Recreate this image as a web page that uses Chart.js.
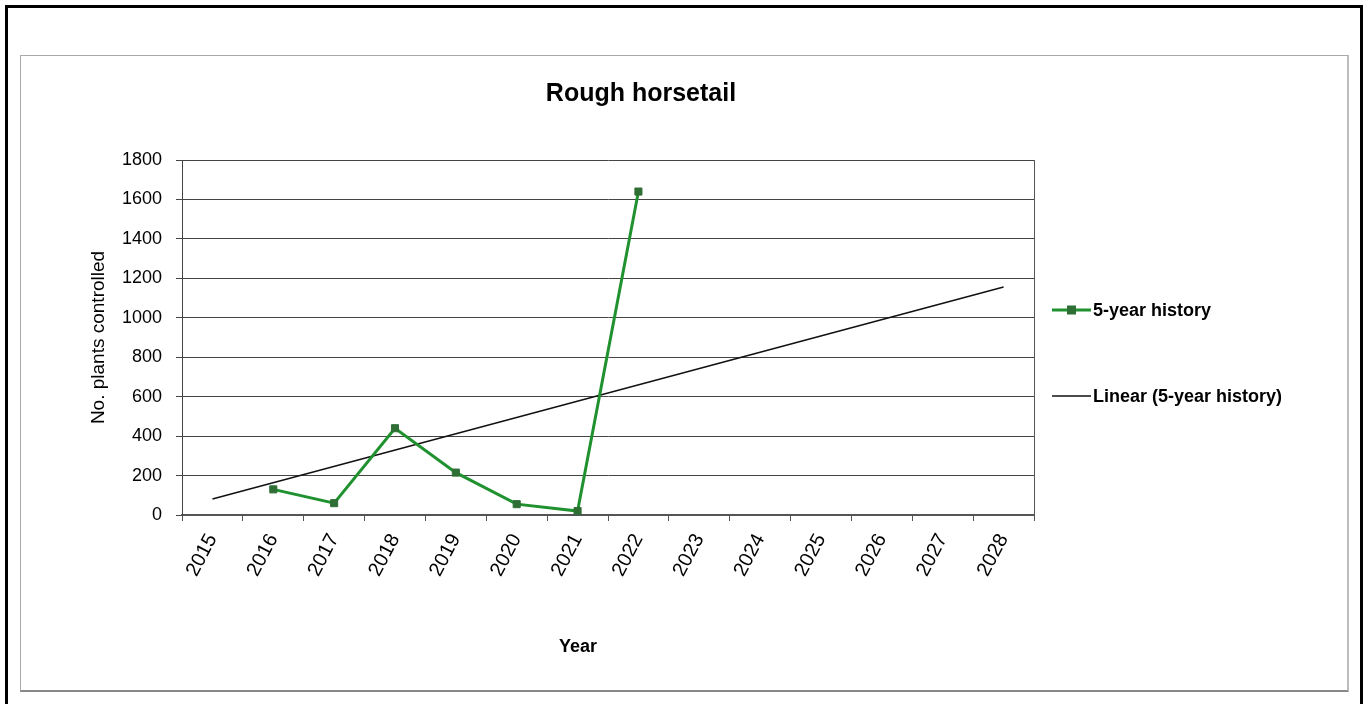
<!DOCTYPE html>
<html>
<head>
<meta charset="utf-8">
<script src="https://cdn.jsdelivr.net/npm/chart.js@4"></script>
<style>
body{margin:0;background:#fff;width:1372px;height:704px;overflow:hidden;position:relative}
#frame{position:absolute;left:5px;top:5px;width:1352px;height:720px;border:3px solid #000}
#box{position:absolute;left:20px;top:55px;width:1326px;height:634px;border:1px solid #aaa;border-bottom:2px solid #888;border-right:2px solid #bbb}
#chart{position:absolute;left:0;top:0}
</style>
</head>
<body>
<div id="frame"></div>
<div id="box"><canvas id="chart" width="1326" height="634"></canvas></div>
<script>

let years = ["2015","2016","2017","2018","2019","2020","2021","2022","2023","2024","2025","2026","2027","2028"]

let history = [null,130,60,440,215,55,20,1640,null,null,null,null,null,null]

// trend line only known at its two ends
let trend = [81,null,null,null,null,null,null,null,null,null,null,null,null,1156]

let yTicks = [0,200,400,600,800,1000,1200,1400,1600,1800]

let chartTitle = "Rough horsetail"
let xTitle = "Year"
let yTitle = "No. plants controlled"

let font = "'Liberation Sans', Arial, sans-serif"


let excelText = {

id:"excelText",

afterDraw(chart){

let ctx = chart.ctx

ctx.save()

ctx.fillStyle = "#000"
ctx.textAlign = "center"
ctx.textBaseline = "middle"

ctx.font = "bold 25px " + font
ctx.fillText(chartTitle, 620, 38)

ctx.font = "bold 18px " + font
ctx.fillText(xTitle, 557, 591)

// legend
ctx.textAlign = "left"

chart.data.datasets.forEach((ds,i)=>{

let y = 254 + i*86
let x = 1031

ctx.strokeStyle = ds.borderColor
ctx.lineWidth = ds.borderWidth
ctx.beginPath()
ctx.moveTo(x,y)
ctx.lineTo(x+39,y)
ctx.stroke()

if(ds.pointRadius){
ctx.fillStyle = ds.pointBackgroundColor
ctx.fillRect(x+15,y-4.5,9,9)
}

ctx.fillStyle = "#000"
ctx.font = "bold 18px " + font
ctx.fillText(ds.label, x+41, y+1)

})

ctx.restore()

}

}


let chart = new Chart(document.getElementById("chart"),{

type:"line",

data:{

labels:years,

datasets:[

{
label:"5-year history",
data:history,
borderColor:"#1f912e",
borderWidth:3,
pointStyle:"rect",
pointRadius:5,
pointBackgroundColor:"#2f6e35",
pointBorderColor:"#2f6e35",
pointBorderWidth:1,
tension:0,
fill:false
},

{
label:"Linear (5-year history)",
data:trend,
borderColor:"#111",
borderWidth:1.5,
pointRadius:0,
spanGaps:true,
tension:0,
fill:false
}

]

},

options:{

responsive:false,
animation:false,

layout:{padding:{left:0,top:104,right:313,bottom:0}},

plugins:{
legend:{display:false},
title:{display:false},
tooltip:{enabled:false}
},

scales:{

x:{
offset:true,
afterFit:(s)=>{ s.height = 175 },
grid:{
offset:true,
drawOnChartArea:true,
color:(c)=> c.index === undefined ? "#555" : "rgba(0,0,0,0)",
tickColor:"#555",
tickLength:6,
lineWidth:1
},
border:{color:"#555",width:2},
ticks:{
color:"#000",
font:{family:font,size:20},
minRotation:62,
maxRotation:62,
padding:9,
autoSkip:false
}
},

y:{
min:0,
max:1800,
afterFit:(s)=>{ s.width = 161 },
afterBuildTicks:(s)=>{ s.ticks = yTicks.map(v=>({value:v})) },
grid:{
color:"#444",
tickColor:"#444",
tickLength:6,
lineWidth:1
},
border:{color:"#444",width:1},
ticks:{
color:"#000",
font:{family:font,size:18},
padding:14,
callback:(v)=>String(v)
},
title:{
display:true,
text:yTitle,
color:"#000",
font:{family:font,size:19},
padding:{top:66,bottom:0}
}
}

}

},

plugins:[excelText]

})

</script>
</body>
</html>
